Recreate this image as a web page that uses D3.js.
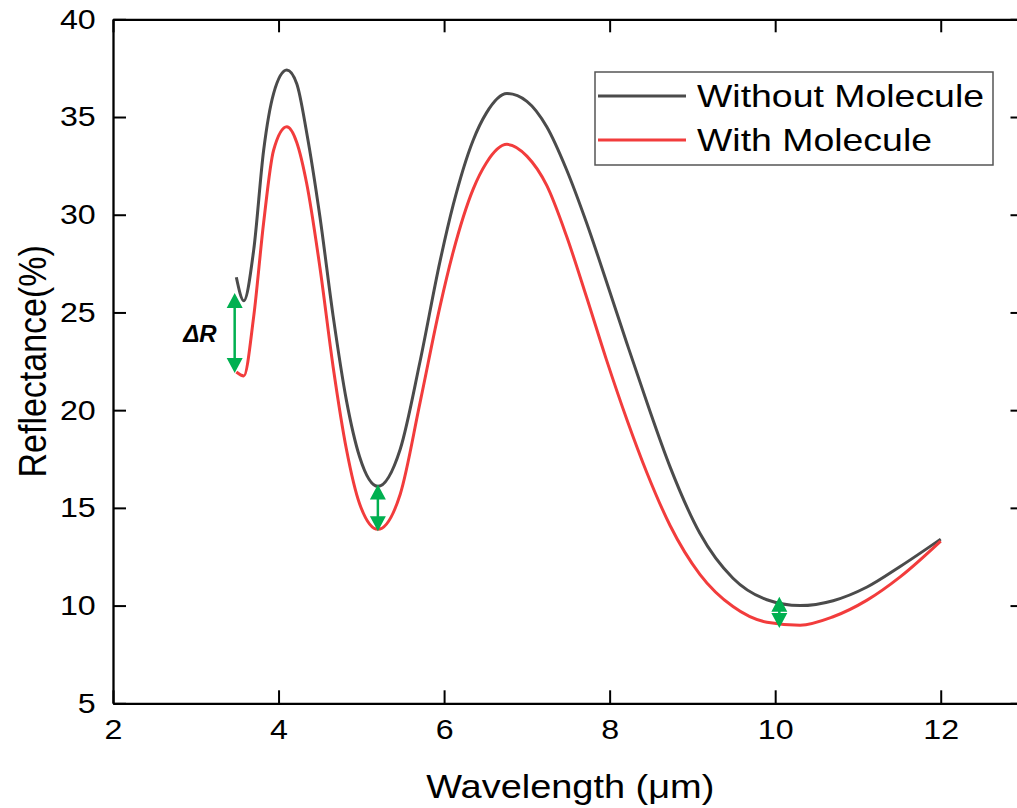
<!DOCTYPE html>
<html>
<head>
<meta charset="utf-8">
<script src="https://cdn.jsdelivr.net/npm/d3@7"></script>
<style>
  body { margin: 0; background: #fff; }
  text { font-family: "Liberation Sans", Arial, sans-serif; fill: #000; }
</style>
</head>
<body>
<svg id="chart" width="1017" height="808"></svg>
<script>
// wavelength (um) sample points
var wavelength = [3.49, 3.58, 3.7, 3.82, 3.94, 4.1, 4.22, 4.34, 4.5, 4.66, 4.82, 4.98, 5.2, 5.47, 5.71,
                  5.95, 6.11, 6.35, 6.51, 6.76, 7.0, 7.24, 7.48, 7.72, 7.96, 8.21, 8.45, 8.73, 9.09,
                  9.49, 9.9, 10.3, 10.7, 11.11, 11.51, 12.0];
var withoutMolecule = [26.8, 25.6, 28.2, 33.3, 36.2, 37.4, 36.7, 34.2, 29.9, 24.8, 20.5, 17.6, 16.1, 18.0, 22.5,
                       27.6, 30.5, 33.8, 35.2, 36.2, 35.8, 34.5, 32.3, 29.6, 26.6, 23.4, 20.4, 17.1, 13.7,
                       11.4, 10.3, 10.0, 10.25, 10.95, 12.0, 13.4];
var withMolecule = [21.95, 21.75, 24.8, 29.6, 33.3, 34.5, 33.7, 31.6, 27.3, 22.2, 18.0, 15.2, 13.9, 15.7, 20.4,
                    25.3, 28.1, 31.3, 32.65, 33.6, 33.0, 31.5, 28.9, 25.8, 22.6, 19.5, 16.8, 14.1, 11.6,
                    9.95, 9.15, 9.0, 9.43, 10.28, 11.47, 13.3];

var seriesNames = ["Without Molecule", "With Molecule"];
var seriesColors = ["#4b4b4b", "#f23c3c"];

var xTicks = [2, 4, 6, 8, 10, 12];
var yTicks = [5, 10, 15, 20, 25, 30, 35, 40];

// delta R arrows
var arrowX = [3.47, 5.2, 10.05];
var arrowLow = [21.9, 13.8, 8.85];
var arrowHigh = [26.0, 16.2, 10.45];

var SX = 1.15; // text in the picture is stretched sideways

var svg = d3.select("#chart");

var x = d3.scaleLinear().domain([2, 13]).range([113, 1023.5]);
var y = d3.scaleLinear().domain([5, 40]).range([703.3, 19.3]);

// axes, ticks inside on all four sides
function styleAxis(g) {
	g.selectAll(".domain").attr("stroke", "#000").attr("stroke-width", 2.3);
	g.selectAll(".tick line").attr("stroke", "#000").attr("stroke-width", 2);
}

var bottomAxis = svg.append("g")
	.attr("transform", "translate(0," + y(5) + ")")
	.call(d3.axisBottom(x).tickValues(xTicks).tickSizeInner(-13).tickSizeOuter(0).tickPadding(16));
bottomAxis.call(styleAxis);
bottomAxis.selectAll("text")
	.attr("font-size", 28)
	.attr("font-family", "Liberation Sans, Arial, sans-serif")
	.attr("fill", "#000")
	.attr("transform", "scale(" + SX + ",1)");

var leftAxis = svg.append("g")
	.attr("transform", "translate(" + x(2) + ",0)")
	.call(d3.axisLeft(y).tickValues(yTicks).tickSizeInner(-13).tickSizeOuter(0).tickPadding(15));
leftAxis.call(styleAxis);
leftAxis.selectAll("text")
	.attr("font-size", 28)
	.attr("font-family", "Liberation Sans, Arial, sans-serif")
	.attr("fill", "#000")
	.attr("transform", "scale(" + SX + ",1)");

var topAxis = svg.append("g")
	.attr("transform", "translate(0," + y(40) + ")")
	.call(d3.axisTop(x).tickValues(xTicks).tickSizeInner(-13).tickSizeOuter(0).tickFormat(""));
topAxis.call(styleAxis);

var rightAxis = svg.append("g")
	.attr("transform", "translate(" + x(13) + ",0)")
	.call(d3.axisRight(y).tickValues(yTicks).tickSizeInner(-13).tickSizeOuter(0).tickFormat(""));
rightAxis.call(styleAxis);

// axis titles
svg.append("text")
	.attr("transform", "translate(" + ((x(2) + x(13)) / 2 + 2) + ",798) scale(" + SX + ",1)")
	.attr("text-anchor", "middle")
	.attr("font-size", 33)
	.text("Wavelength (\u03bcm)");

svg.append("text")
	.attr("transform", "translate(46," + ((y(5) + y(40)) / 2) + ") rotate(-90) scale(1," + SX + ")")
	.attr("text-anchor", "middle")
	.attr("font-size", 34)
	.text("Reflectance(%)");

// curves
var line = d3.line()
	.x(function (d) { return x(d[0]); })
	.y(function (d) { return y(d[1]); })
	.curve(d3.curveMonotoneX);

var seriesData = [withoutMolecule, withMolecule];

svg.selectAll(".curve")
	.data(seriesData)
	.enter()
	.append("path")
	.attr("class", "curve")
	.attr("fill", "none")
	.attr("stroke", function (d, i) { return seriesColors[i]; })
	.attr("stroke-width", 3)
	.attr("stroke-linejoin", "round")
	.attr("d", function (d) {
		return line(d.map(function (v, j) { return [wavelength[j], v]; }));
	});

// double headed green arrows
var green = "#00b050";
var headH = 15, headW = 8;
var arrows = svg.selectAll(".arrow")
	.data(arrowX)
	.enter()
	.append("g")
	.attr("class", "arrow");

arrows.append("line")
	.attr("x1", function (d) { return x(d); })
	.attr("x2", function (d) { return x(d); })
	.attr("y1", function (d, i) { return y(arrowHigh[i]) + headH - 2; })
	.attr("y2", function (d, i) { return y(arrowLow[i]) - headH + 2; })
	.attr("stroke", green)
	.attr("stroke-width", 2.5);

arrows.append("path")
	.attr("fill", green)
	.attr("d", function (d, i) {
		var cx = x(d), t = y(arrowHigh[i]), b = y(arrowLow[i]);
		return "M" + cx + "," + t + "L" + (cx + headW) + "," + (t + headH) + "L" + (cx - headW) + "," + (t + headH) + "Z" +
			"M" + cx + "," + b + "L" + (cx + headW) + "," + (b - headH) + "L" + (cx - headW) + "," + (b - headH) + "Z";
	});

svg.append("text")
	.attr("x", x(arrowX[0]) - 18)
	.attr("y", 342)
	.attr("text-anchor", "end")
	.attr("font-family", "DejaVu Serif, serif")
	.attr("font-style", "italic")
	.attr("font-weight", "bold")
	.attr("font-size", 24)
	.text("\u0394R");

// legend
var legend = svg.append("g");
legend.append("rect")
	.attr("x", 595)
	.attr("y", 72)
	.attr("width", 398)
	.attr("height", 93)
	.attr("fill", "#fff")
	.attr("stroke", "#555")
	.attr("stroke-width", 1.5);

var items = legend.selectAll(".item")
	.data(seriesNames)
	.enter()
	.append("g")
	.attr("class", "item")
	.attr("transform", function (d, i) { return "translate(0," + (96 + i * 44) + ")"; });

items.append("line")
	.attr("x1", 598)
	.attr("x2", 686)
	.attr("stroke", function (d, i) { return seriesColors[i]; })
	.attr("stroke-width", 3);

items.append("text")
	.attr("transform", "translate(697,11) scale(1.17,1)")
	.attr("font-size", 32)
	.text(function (d) { return d; });
</script>
</body>
</html>
